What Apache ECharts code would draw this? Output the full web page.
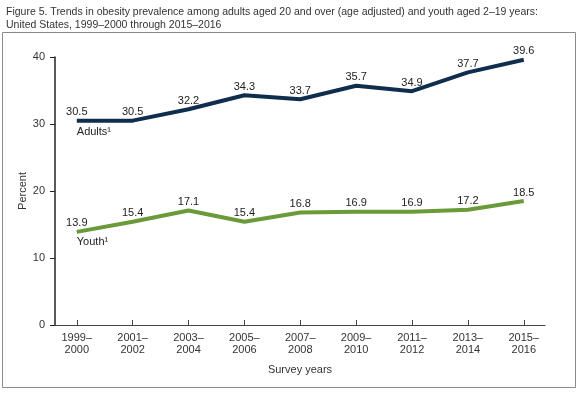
<!DOCTYPE html>
<html>
<head>
<meta charset="utf-8">
<script src="https://cdn.jsdelivr.net/npm/echarts@6/dist/echarts.min.js"></script>
<style>html,body{margin:0;padding:0;background:#fff;}#c{width:578px;height:394px;}</style>
</head>
<body>
<div id="c"></div>
<script>
const categories = ['1999–\n2000','2001–\n2002','2003–\n2004','2005–\n2006','2007–\n2008','2009–\n2010','2011–\n2012','2013–\n2014','2015–\n2016'];
const adults = [30.5,30.5,32.2,34.3,33.7,35.7,34.9,37.7,39.6];
const youth = [13.9,15.4,17.1,15.4,16.8,16.9,16.9,17.2,18.5];
const yTicks = [0,10,20,30,40];
const titleText = 'Figure 5. Trends in obesity prevalence among adults aged 20 and over (age adjusted) and youth aged 2–19 years:\nUnited States, 1999–2000 through 2015–2016';

const font = 'Arial, "Liberation Sans", sans-serif';
const idx = categories.map((_, i) => i);
const chart = echarts.init(document.getElementById('c'));
const valLabel = {show: true, position: 'top', distance: 3, fontFamily: font, fontSize: 11, color: '#222',
  formatter: p => p.value[1].toFixed(1)};
chart.setOption({
  animation: false,
  backgroundColor: '#fff',
  title: {
    text: titleText, left: 1, top: 1,
    textStyle: {fontFamily: font, fontSize: 10.5, fontWeight: 'normal', color: '#333', lineHeight: 13}
  },
  graphic: [{
    type: 'rect', shape: {x: 2.5, y: 32.5, width: 573, height: 355},
    style: {fill: 'none', stroke: '#8a8a8a', lineWidth: 1}, silent: true, z: -1
  }],
  grid: {left: 55, right: 33, top: 57, bottom: 69},
  xAxis: {
    type: 'value', min: -0.39, max: 8.38,
    name: 'Survey years', nameLocation: 'middle', nameGap: 39,
    nameTextStyle: {fontFamily: font, fontSize: 11, color: '#333'},
    axisLine: {show: true, onZero: false, lineStyle: {color: '#444', width: 1.2}},
    axisTick: {show: true, inside: true, length: 5, customValues: idx, lineStyle: {color: '#444'}},
    axisLabel: {
      customValues: idx, margin: 7, fontFamily: font, fontSize: 11, color: '#333', lineHeight: 12,
      formatter: v => categories[Math.round(v)]
    },
    splitLine: {show: false}
  },
  yAxis: {
    type: 'value', min: 0, max: 40, interval: 10,
    name: 'Percent', nameLocation: 'middle', nameGap: 27, nameMoveOverlap: false,
    nameTextStyle: {fontFamily: font, fontSize: 11, color: '#333'},
    axisLine: {show: true, onZero: false, lineStyle: {color: '#222', width: 1.5}},
    axisTick: {show: true, inside: false, length: 5, lineStyle: {color: '#222'}},
    axisLabel: {margin: 10, fontFamily: font, fontSize: 11, color: '#333', customValues: yTicks},
    splitLine: {show: false}
  },
  series: [
    {
      type: 'line', data: adults.map((v, i) => [i, v]), symbol: 'circle', symbolSize: 0.1, showSymbol: true,
      lineStyle: {color: '#0f2d4c', width: 4}, itemStyle: {color: '#0f2d4c'},
      label: valLabel,
      markPoint: {
        symbol: 'circle', symbolSize: 0.01,
        label: {show: true, position: 'bottom', distance: 6, align: 'left', fontFamily: font, fontSize: 11, color: '#222', formatter: 'Adults¹'},
        data: [{coord: [0, adults[0]]}]
      }
    },
    {
      type: 'line', data: youth.map((v, i) => [i, v]), symbol: 'circle', symbolSize: 0.1, showSymbol: true,
      lineStyle: {color: '#6b9a3b', width: 4}, itemStyle: {color: '#6b9a3b'},
      label: valLabel,
      markPoint: {
        symbol: 'circle', symbolSize: 0.01,
        label: {show: true, position: 'bottom', distance: 5, align: 'left', fontFamily: font, fontSize: 11, color: '#222', formatter: 'Youth¹'},
        data: [{coord: [0, youth[0]]}]
      }
    }
  ]
});
</script>
</body>
</html>
